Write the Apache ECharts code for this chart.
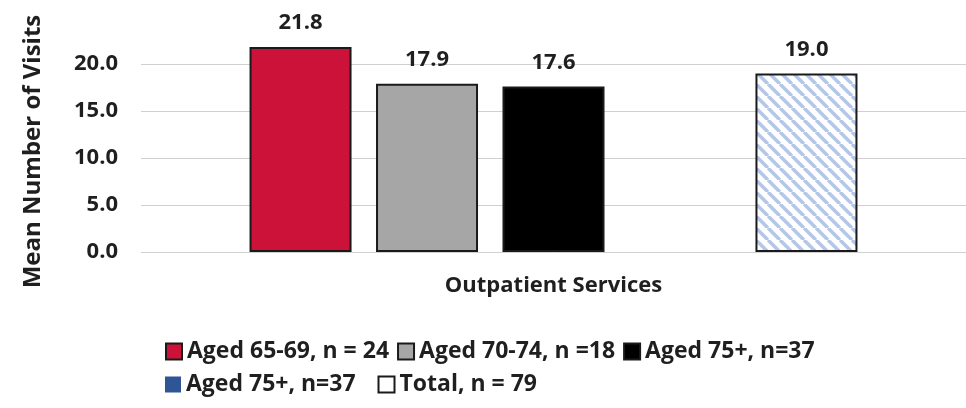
<!DOCTYPE html>
<html>
<head>
<meta charset="utf-8">
<script src="https://cdn.jsdelivr.net/npm/echarts@6/dist/echarts.min.js"></script>
<style>
  html, body { margin: 0; padding: 0; background: #fff; }
  #chart { width: 966px; height: 408px; }
</style>
</head>
<body>
<div id="chart"></div>
<script>
const categories = ['Outpatient Services']
const seriesNames = ['Aged 65-69, n = 24', 'Aged 70-74, n =18', 'Aged 75+, n=37', 'Aged 75+, n=37 ', 'Total, n = 79']
const seriesValues = [[21.8], [17.9], [17.6], ['-'], [19.0]]
const yTicks = { min: 0, max: 25, interval: 5 }

const textColor = '#1f1f1f'
const fontFamily = '"Open Sans", Lato, sans-serif'

// diagonal hatch for the Total bar
const makeHatch = () => {
  const c = document.createElement('canvas')
  c.width = 12
  c.height = 12
  const ctx = c.getContext('2d')
  ctx.fillStyle = '#fff'
  ctx.fillRect(0, 0, 12, 12)
  ctx.strokeStyle = '#b4c7e7'
  ctx.lineWidth = 3.5
  for (const x of [-12, 0, 12]) {
    ctx.beginPath()
    ctx.moveTo(x, 0)
    ctx.lineTo(x + 12, 12)
    ctx.stroke()
  }
  return { image: c, repeat: 'repeat' }
}

const fills = ['#cc1238', '#a6a6a6', '#000000', '#2f5597', makeHatch()]

const chart = echarts.init(document.getElementById('chart'))

const series = seriesNames.map((name, i) => ({
  name,
  type: 'bar',
  data: seriesValues[i],
  barWidth: 102,
  barGap: '24%',
  itemStyle: {
    color: fills[i],
    borderColor: i === 3 ? fills[i] : '#1a1a1a',
    borderWidth: i === 3 ? 0 : 2
  },
  label: {
    show: true,
    position: 'top',
    distance: 13,
    color: textColor,
    fontSize: 22,
    fontWeight: 'bold',
    fontFamily,
    formatter: (p) => p.value.toFixed(1)
  }
}))

const legendText = { color: textColor, fontSize: 23, fontWeight: 'bold', fontFamily }

chart.setOption({
  animation: false,
  grid: { left: 141, right: -13, top: 17, bottom: 156 },
  legend: [
    {
      left: 160,
      top: 335,
      itemWidth: 16,
      itemHeight: 16,
      itemGap: 8,
      icon: 'rect',
      textStyle: legendText,
      data: seriesNames.slice(0, 3)
    },
    {
      left: 160,
      top: 368,
      itemWidth: 16,
      itemHeight: 16,
      itemGap: 16,
      icon: 'rect',
      textStyle: legendText,
      data: [
        { name: seriesNames[3] },
        { name: seriesNames[4], itemStyle: { color: '#ffffff', borderColor: '#1a1a1a', borderWidth: 2 } }
      ]
    }
  ],
  xAxis: {
    type: 'category',
    data: categories,
    axisLine: { show: false },
    axisTick: { show: false },
    axisLabel: { color: textColor, fontSize: 22, fontWeight: 'bold', fontFamily, margin: 23 }
  },
  yAxis: {
    type: 'value',
    min: yTicks.min,
    max: yTicks.max,
    interval: yTicks.interval,
    name: 'Mean Number of Visits',
    nameLocation: 'middle',
    nameGap: 96,
    nameTextStyle: { color: textColor, fontSize: 24, fontWeight: 'bold', fontFamily, padding: [0, 34, 0, 0] },
    axisLabel: {
      color: textColor,
      fontSize: 22,
      fontWeight: 'bold',
      fontFamily,
      margin: 23,
      showMaxLabel: false,
      formatter: (v) => v.toFixed(1)
    },
    splitLine: { showMaxLine: false, lineStyle: { color: '#d0d0d0', width: 1 } }
  },
  series
})
</script>
</body>
</html>
